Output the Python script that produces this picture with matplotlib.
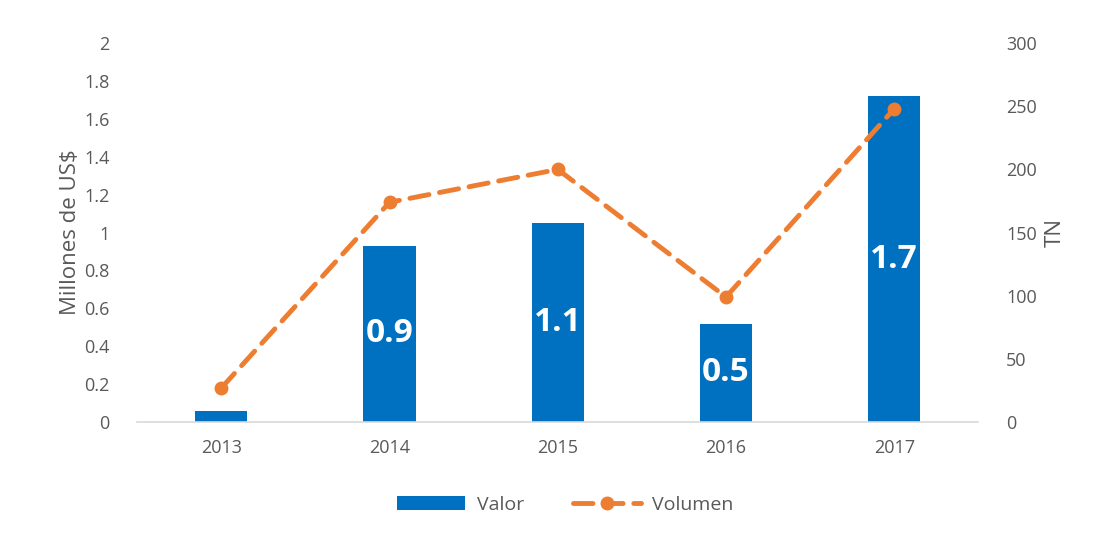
import numpy as np
import matplotlib.pyplot as plt

plt.rcParams['font.family'] = ['Open Sans', 'DejaVu Sans']

# datos
years = ['2013', '2014', '2015', '2016', '2017']
valor = [0.058, 0.93, 1.05, 0.52, 1.72]          # millones de US$
volumen = [27, 174, 200, 99, 248]                 # TN
valor_labels = ['', '0.9', '1.1', '0.5', '1.7']

BLUE = '#0070C0'
ORANGE = '#ED7D31'
GRAY = '#595959'

fig = plt.figure(figsize=(10.98, 5.39), dpi=100)
ax = fig.add_axes([0.125, 0.217, 0.766, 0.703])
ax2 = ax.twinx()

x = np.arange(len(years))
ax.bar(x, valor, width=0.31, color=BLUE, label='Valor', zorder=2)
for xi, v, lab in zip(x, valor, valor_labels):
    if lab:
        ax.text(xi, v / 2, lab, ha='center', va='center', color='white',
                fontsize=24, fontweight='bold', zorder=3)

ax2.plot(x, volumen, color=ORANGE, lw=3.5, ls=(0, (4, 2.2)), marker='o',
         markersize=9, label='Volumen', zorder=4, dash_capstyle='round')

ax.set_xlim(-0.5, len(years) - 0.5)
ax.set_ylim(0, 2)
ax.set_yticks(np.arange(0, 2.01, 0.2))
ax.set_yticklabels(['0', '0.2', '0.4', '0.6', '0.8', '1', '1.2', '1.4', '1.6', '1.8', '2'])
ax2.set_ylim(0, 300)
ax2.set_yticks(np.arange(0, 301, 50))

ax.set_xticks(x)
ax.set_xticklabels(years)

for a in (ax, ax2):
    for s in ['top', 'left', 'right', 'bottom']:
        a.spines[s].set_visible(False)
    a.tick_params(length=0, labelsize=13, colors=GRAY)
ax.spines['bottom'].set_visible(True)
ax.spines['bottom'].set_color('#D9D9D9')
ax.spines['bottom'].set_linewidth(1.2)
ax.tick_params(axis='x', pad=12)
ax.tick_params(axis='y', pad=20)
ax2.tick_params(axis='y', pad=20)

ax.set_ylabel('Millones de US$', fontsize=16, color=GRAY, labelpad=2)
ax2.set_ylabel('TN', fontsize=16, color=GRAY, rotation=90, labelpad=6)

h1, l1 = ax.get_legend_handles_labels()
h2, l2 = ax2.get_legend_handles_labels()
fig.legend(h1 + h2, l1 + l2, loc='center', bbox_to_anchor=(0.515, 0.063),
           ncol=2, frameon=False, fontsize=14, labelcolor=GRAY,
           handlelength=3.5, columnspacing=2.5, handletextpad=0.6)

fig.savefig('out.png', dpi=100)
